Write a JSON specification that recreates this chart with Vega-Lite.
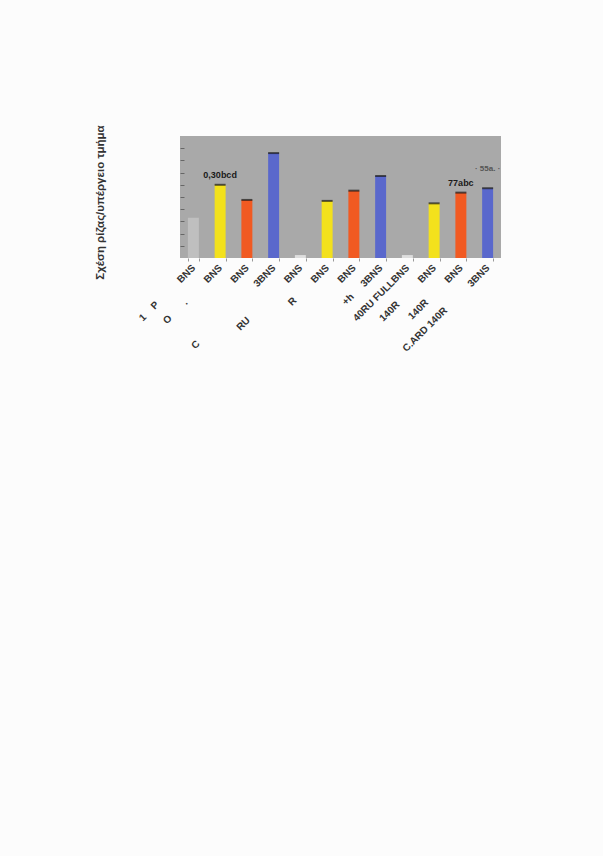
{
  "$schema": "https://vega.github.io/schema/vega-lite/v6.json",
  "width": 321,
  "height": 122,
  "autosize": "none",
  "padding": {"left": 180, "top": 136, "right": 102, "bottom": 598},
  "background": "#fcfcfc",
  "data": {
    "values": [
      {"label": "1\u00a0\u00a0\u00a0\u00a0P\u00a0\u00a0\u00a0\u00a0\u00a0\u00a0\u00a0\u00a0\u00a0\u00a0\u00a0BNS", "grp": "ctrl", "value": 0.165},
      {"label": "O\u00a0\u00a0\u00a0\u00a0\u00a0\u00a0\u00a0.\u00a0\u00a0\u00a0\u00a0\u00a0\u00a0\u00a0\u00a0\u00a0\u00a0BNS", "grp": "yel", "value": 0.30, "note": "0,30bcd"},
      {"label": "BNS", "grp": "org", "value": 0.238},
      {"label": "C\u00a0\u00a0\u00a0\u00a0\u00a0\u00a0\u00a0\u00a0\u00a0\u00a0\u00a0\u00a0\u00a0\u00a0\u00a0\u00a0\u00a0\u00a0\u00a0\u00a0\u00a0\u00a0\u00a0\u00a0\u00a0\u00a0\u00a0\u00a0\u00a03BNS", "grp": "blu", "value": 0.43},
      {"label": "RU\u00a0\u00a0\u00a0\u00a0\u00a0\u00a0\u00a0\u00a0\u00a0\u00a0\u00a0\u00a0\u00a0\u00a0\u00a0\u00a0\u00a0\u00a0\u00a0BNS", "grp": "pale", "value": 0.012},
      {"label": "R\u00a0\u00a0\u00a0\u00a0\u00a0\u00a0\u00a0\u00a0\u00a0BNS", "grp": "yel", "value": 0.234},
      {"label": "\u00a0BNS", "grp": "org", "value": 0.276},
      {"label": "+h\u00a0\u00a0\u00a0\u00a0\u00a03BNS", "grp": "blu", "value": 0.336},
      {"label": "40RU FULLBNS", "grp": "pale", "value": 0.012},
      {"label": "140R\u00a0\u00a0\u00a0\u00a0\u00a0\u00a0\u00a0\u00a0\u00a0\u00a0\u00a0BNS", "grp": "yel", "value": 0.224},
      {"label": "\u00a0140R\u00a0\u00a0\u00a0\u00a0\u00a0\u00a0\u00a0\u00a0\u00a0\u00a0BNS", "grp": "org", "value": 0.268, "note": "77abc"},
      {"label": "C.ARD 140R\u00a0\u00a0\u00a0\u00a0\u00a0\u00a0\u00a0\u00a0\u00a0\u00a0\u00a0\u00a03BNS", "grp": "blu", "value": 0.286, "note2": "\u00b7 55a. \u00b7"}
    ]
  },
  "encoding": {
    "x": {
      "field": "label",
      "type": "nominal",
      "sort": null,
      "scale": {"paddingInner": 0.59, "paddingOuter": 0.295},
      "axis": {
        "title": null,
        "labelAngle": -45,
        "labelAlign": "right",
        "labelBaseline": "middle",
        "labelFontSize": 10,
        "labelFontWeight": "bold",
        "labelColor": "#333333",
        "labelPadding": 5,
        "labelOverlap": false,
        "labelLimit": 300,
        "tickSize": 3,
        "tickColor": "#999999",
        "tickBand": "extent",
        "domain": false
      }
    },
    "y": {
      "field": "value",
      "type": "quantitative",
      "scale": {"domain": [0, 0.5]},
      "axis": {
        "title": "Σχέση ρίζας/υπέργειο τμήμα",
        "titleFontSize": 11.5,
        "titleFontWeight": "bold",
        "titleColor": "#333333",
        "titlePadding": 74,
        "titleY": 66,
        "labels": false,
        "domain": false,
        "grid": false,
        "values": [0.05, 0.1, 0.15, 0.2, 0.25, 0.3, 0.35, 0.4, 0.45],
        "tickSize": -4,
        "tickColor": "#666666"
      }
    }
  },
  "layer": [
    {
      "mark": {"type": "bar"},
      "encoding": {
        "color": {
          "field": "grp",
          "type": "nominal",
          "legend": null,
          "scale": {
            "domain": ["ctrl", "pale", "yel", "org", "blu"],
            "range": ["#bfbfbf", "#dedede", "#f3e11c", "#f15a22", "#5a68cc"]
          }
        }
      }
    },
    {
      "transform": [{"filter": "datum.grp != 'ctrl' && datum.grp != 'pale'"}],
      "mark": {"type": "tick", "color": "#1a1a1a", "size": 11, "thickness": 2}
    },
    {
      "transform": [{"filter": "datum.note"}],
      "mark": {"type": "text", "baseline": "bottom", "dy": -5, "fontSize": 9, "fontWeight": "bold", "color": "#1a1a1a"},
      "encoding": {"text": {"field": "note"}}
    },
    {
      "transform": [{"filter": "datum.note2"}],
      "mark": {"type": "text", "baseline": "bottom", "dy": -15, "fontSize": 8, "fontWeight": "bold", "color": "#555555"},
      "encoding": {"text": {"field": "note2"}}
    }
  ],
  "config": {
    "view": {"stroke": null, "fill": "#a9a9a9"},
    "font": "Liberation Sans"
  }
}
